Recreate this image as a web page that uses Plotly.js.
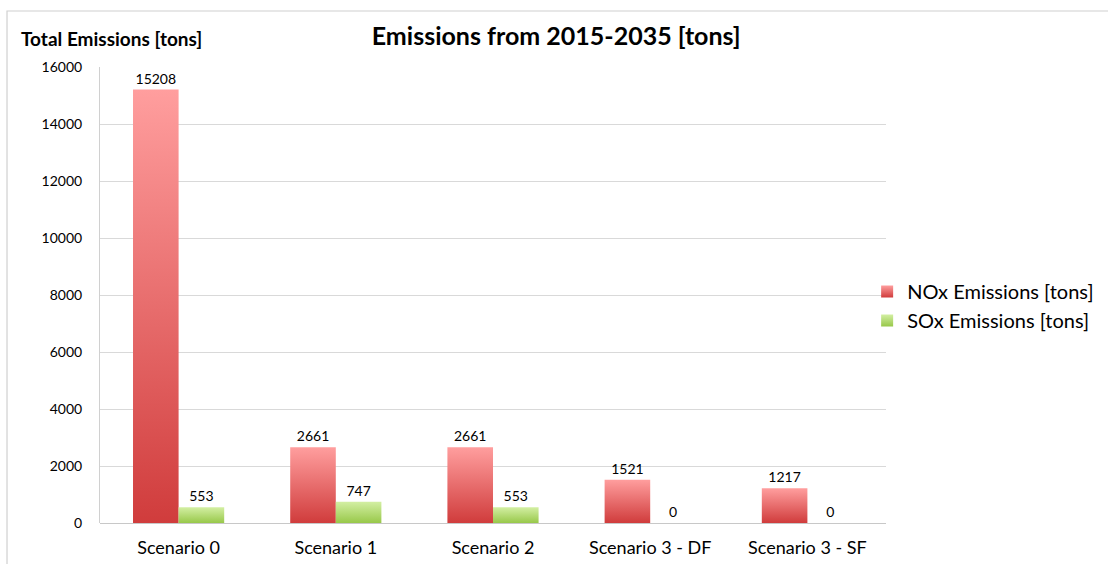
<!DOCTYPE html>
<html>
<head>
<meta charset="utf-8">
<script src="https://cdn.plot.ly/plotly-3.0.1.min.js"></script>
<style>
  html, body { margin: 0; padding: 0; background: #fff; }
  #chart { width: 1108px; height: 564px; }
</style>
</head>
<body>
<div id="chart"></div>
<script>
// Scenarios compared over 2015-2035
const scenarios = ['Scenario 0', 'Scenario 1', 'Scenario 2', 'Scenario 3 - DF', 'Scenario 3 - SF'];
const noxEmissions = [15208, 2661, 2661, 1521, 1217];
const soxEmissions = [553, 747, 553, 0, 0];
const yTicks = [0, 2000, 4000, 6000, 8000, 10000, 12000, 14000, 16000];

const FONT = 'Lato, "Open Sans", sans-serif';

const traces = [
  {
    type: 'bar', name: 'NOx Emissions [tons]', x: scenarios, y: noxEmissions,
    marker: { color: '#e66060', line: { width: 0 } },
    text: noxEmissions.map(String), textposition: 'outside', cliponaxis: false,
    textfont: { family: FONT, size: 14, color: '#000' },
    legendgroup: 'a', hoverinfo: 'skip'
  },
  {
    type: 'bar', name: 'SOx Emissions [tons]', x: scenarios, y: soxEmissions,
    marker: { color: '#b5dc72', line: { width: 0 } },
    text: soxEmissions.map(String), textposition: 'outside', cliponaxis: false,
    textfont: { family: FONT, size: 14, color: '#000' },
    legendgroup: 'b', hoverinfo: 'skip'
  }
];

const layout = {
  width: 1108, height: 564,
  margin: { l: 100, r: 222, t: 67, b: 41, pad: 0, autoexpand: false },
  paper_bgcolor: '#fff', plot_bgcolor: '#fff',
  font: { family: FONT, color: '#000' },
  barmode: 'group', bargap: 0.42, bargroupgap: 0,
  title: {
    text: '<b>Emissions from 2015-2035 [tons]</b>',
    font: { family: FONT, size: 25, color: '#000' },
    xref: 'container', x: 0.502, xanchor: 'center',
    yref: 'container', y: 0.935, yanchor: 'middle'
  },
  xaxis: {
    type: 'category', showgrid: false, zeroline: false,
    showline: false, ticks: '',
    tickfont: { family: FONT, size: 18, color: '#000' },
    ticklabelstandoff: 12, fixedrange: true
  },
  yaxis: {
    range: [0, 16000], tickvals: yTicks, ticktext: yTicks.map(String),
    showgrid: true, gridcolor: '#d9d9d9', gridwidth: 1,
    zeroline: true, zerolinecolor: '#c8c8c8', zerolinewidth: 1,
    showline: true, linecolor: '#d0d0d0', linewidth: 1, ticks: '',
    tickfont: { family: FONT, size: 14, color: '#000' },
    ticklabelstandoff: 14, fixedrange: true
  },
  showlegend: true,
  legend: {
    x: 0.976, xanchor: 'left', y: 0.476, yanchor: 'middle',
    font: { family: FONT, size: 20, color: '#000' },
    bgcolor: 'rgba(0,0,0,0)', tracegroupgap: 6, traceorder: 'normal'
  },
  annotations: [{
    text: '<b>Total Emissions [tons]</b>', showarrow: false,
    xref: 'paper', yref: 'paper', x: -0.103, xanchor: 'left',
    y: 1.062, yanchor: 'middle',
    font: { family: FONT, size: 19, color: '#000' }
  }],
  shapes: [{
    type: 'rect', xref: 'paper', yref: 'paper',
    x0: -0.1183, x1: 1.3, y0: -0.2, y1: 1.1228,
    line: { color: '#d0d0d0', width: 1.2 }, fillcolor: 'rgba(0,0,0,0)', layer: 'below'
  }]
};

// Vertical gradient fills applied to each bar and legend swatch
const gradients = {
  gradNox: ['#ff9e9e', '#d03c3c'],
  gradSox: ['#d3efa3', '#98c84a']
};

function applyGradients(gd) {
  const svg = gd.querySelector('svg.main-svg');
  if (!svg) return;
  let defs = svg.querySelector('defs');
  if (!defs) {
    defs = document.createElementNS('http://www.w3.org/2000/svg', 'defs');
    svg.insertBefore(defs, svg.firstChild);
  }
  Object.keys(gradients).forEach(function (id) {
    if (defs.querySelector('#' + id)) return;
    const g = document.createElementNS('http://www.w3.org/2000/svg', 'linearGradient');
    g.setAttribute('id', id);
    g.setAttribute('x1', '0'); g.setAttribute('y1', '0');
    g.setAttribute('x2', '0'); g.setAttribute('y2', '1');
    gradients[id].forEach(function (c, i) {
      const s = document.createElementNS('http://www.w3.org/2000/svg', 'stop');
      s.setAttribute('offset', i === 0 ? '0' : '1');
      s.setAttribute('stop-color', c);
      g.appendChild(s);
    });
    defs.appendChild(g);
  });
  const ids = ['gradNox', 'gradSox'];
  gd.querySelectorAll('.barlayer .trace.bars').forEach(function (tr, i) {
    tr.querySelectorAll('.point path').forEach(function (p) {
      p.style.fill = 'url(#' + ids[i] + ')';
    });
  });
  gd.querySelectorAll('.legend .traces').forEach(function (tr, i) {
    tr.querySelectorAll('.legendpoints path').forEach(function (p) {
      p.style.fill = 'url(#' + ids[i] + ')';
      p.style.stroke = 'none';
    });
  });
}

const gd = document.getElementById('chart');
Plotly.newPlot(gd, traces, layout, { displayModeBar: false, staticPlot: true }).then(function () {
  applyGradients(gd);
  gd.on('plotly_afterplot', function () { applyGradients(gd); });
});
</script>
</body>
</html>
